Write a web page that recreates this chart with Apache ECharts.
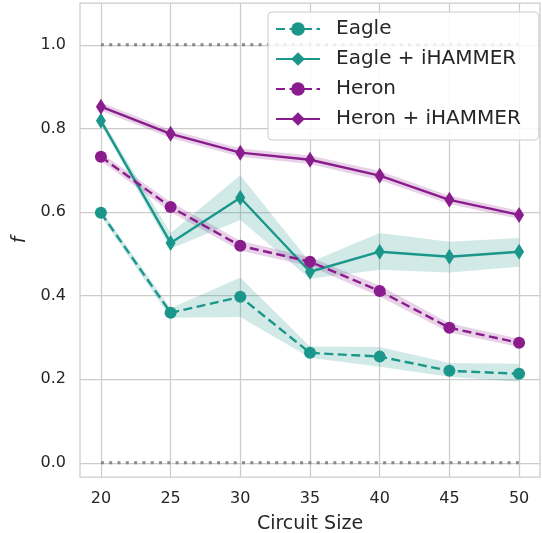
<!DOCTYPE html>
<html>
<head>
<meta charset="utf-8">
<script src="https://cdn.jsdelivr.net/npm/echarts@6/dist/echarts.min.js"></script>
<style>
  html, body { margin: 0; padding: 0; background: #fff; }
  #chart { width: 542px; height: 533px; }
</style>
</head>
<body>
<div id="chart"></div>
<script>
// circuit sizes on x
var sizes = [20, 25, 30, 35, 40, 45, 50];
var yTicks = [0, 0.2, 0.4, 0.6, 0.8, 1.0];

// Eagle
var eagle = [0.598, 0.359, 0.397, 0.263, 0.254, 0.220, 0.213];
var eagleLo = [0.590, 0.347, 0.349, 0.251, 0.230, 0.206, 0.194];
var eagleHi = [0.606, 0.370, 0.443, 0.278, 0.277, 0.239, 0.237];

// Eagle + iHAMMER
var eagleH = [0.818, 0.526, 0.634, 0.457, 0.505, 0.493, 0.505];
var eagleHLo = [0.810, 0.512, 0.581, 0.440, 0.462, 0.455, 0.469];
var eagleHHi = [0.826, 0.550, 0.688, 0.480, 0.550, 0.529, 0.538];

// Heron
var heron = [0.732, 0.612, 0.519, 0.481, 0.411, 0.323, 0.287];
var heronLo = [0.722, 0.600, 0.507, 0.470, 0.398, 0.312, 0.277];
var heronHi = [0.742, 0.624, 0.531, 0.492, 0.424, 0.334, 0.297];

// Heron + iHAMMER
var heronH = [0.852, 0.787, 0.742, 0.725, 0.687, 0.629, 0.593];
var heronHLo = [0.842, 0.777, 0.732, 0.715, 0.676, 0.619, 0.583];
var heronHHi = [0.862, 0.797, 0.752, 0.735, 0.698, 0.639, 0.603];

// dotted reference lines at 0 and 1
var refX = [20, 50];
var refTop = [1, 1];
var refBottom = [0, 0];

var teal = '#1b968a';
var purple = '#8a1c8d';
var textColor = '#262626';
var font = 'DejaVu Sans';

function pairs(ys) {
    return sizes.map(function (x, i) { return [x, ys[i]]; });
}

function band(lo, hi, color) {
    return {
        type: 'custom',
        silent: true,
        z: 1,
        data: sizes.map(function (x, i) { return [x, lo[i], hi[i]]; }),
        encode: { x: 0, y: [1, 2] },
        renderItem: function (params, api) {
            if (params.dataIndex !== 0) return;
            var pts = [];
            for (var i = 0; i < sizes.length; i++) pts.push(api.coord([sizes[i], hi[i]]));
            for (var j = sizes.length - 1; j >= 0; j--) pts.push(api.coord([sizes[j], lo[j]]));
            return {
                type: 'polygon',
                shape: { points: pts },
                style: { fill: color, opacity: 0.2 }
            };
        }
    };
}

function line(name, ys, color, dashed, symbol, size) {
    return {
        name: name,
        type: 'line',
        z: 3,
        data: pairs(ys),
        symbol: symbol,
        symbolSize: size,
        itemStyle: { color: color },
        lineStyle: { color: color, width: 2.4, type: dashed ? [9, 4.5] : 'solid' },
        emphasis: { disabled: true }
    };
}

function ref(ys) {
    return {
        type: 'line',
        z: 2,
        data: refX.map(function (x, i) { return [x, ys[i]]; }),
        symbol: 'none',
        silent: true,
        lineStyle: { color: '#888888', width: 3, type: [3, 5.3], cap: 'butt' }
    };
}

var myChart = echarts.init(document.getElementById('chart'));
var option = {
    animation: false,
    backgroundColor: '#fff',
    textStyle: { fontFamily: font },
    grid: {
        left: 80, right: 2, top: 3, bottom: 56,
        outerBoundsMode: 'none',
        containLabel: false,
        show: true, borderColor: '#cccccc', borderWidth: 1.25
    },
    legend: {
        orient: 'vertical',
        left: 268, top: 12,
        data: ['Eagle', 'Eagle + iHAMMER', 'Heron', 'Heron + iHAMMER'],
        itemWidth: 44, itemHeight: 17, itemGap: 10,
        padding: [7, 18, 11, 7],
        backgroundColor: 'rgba(255,255,255,0.85)',
        borderColor: '#cccccc', borderWidth: 1, borderRadius: 4,
        textStyle: { fontSize: 20, color: textColor, fontFamily: font, padding: [0, 0, 0, 11] }
    },
    xAxis: {
        type: 'value',
        min: 18.5, max: 51.5,
        name: 'Circuit Size',
        nameLocation: 'middle',
        nameGap: 38,
        nameTextStyle: { fontSize: 19, color: textColor },
        axisLine: { show: false },
        axisTick: { show: false, customValues: sizes },
        axisLabel: { customValues: sizes, fontSize: 16, color: textColor, margin: 14 },
        splitLine: { show: true, lineStyle: { color: '#cccccc', width: 1.25 } }
    },
    yAxis: {
        type: 'value',
        min: -0.034, max: 1.1,
        name: 'f',
        nameLocation: 'middle',
        nameGap: 46,
        nameTextStyle: { fontSize: 19, color: textColor, fontStyle: 'italic' },
        axisLine: { show: false },
        axisTick: { show: false, customValues: yTicks },
        axisLabel: {
            customValues: yTicks, fontSize: 16, color: textColor, margin: 14,
            formatter: function (v) { return v.toFixed(1); }
        },
        splitLine: { show: true, lineStyle: { color: '#cccccc', width: 1.25 } }
    },
    series: [
        ref(refTop),
        ref(refBottom),
        band(eagleLo, eagleHi, teal),
        band(eagleHLo, eagleHHi, teal),
        band(heronLo, heronHi, purple),
        band(heronHLo, heronHHi, purple),
        line('Eagle', eagle, teal, true, 'circle', 12),
        line('Eagle + iHAMMER', eagleH, teal, false, 'diamond', [10, 16]),
        line('Heron', heron, purple, true, 'circle', 12),
        line('Heron + iHAMMER', heronH, purple, false, 'diamond', [10, 16])
    ]
};
myChart.setOption(option);
window.addEventListener('resize', function () {
    myChart.resize();
});
</script>
</body>
</html>
